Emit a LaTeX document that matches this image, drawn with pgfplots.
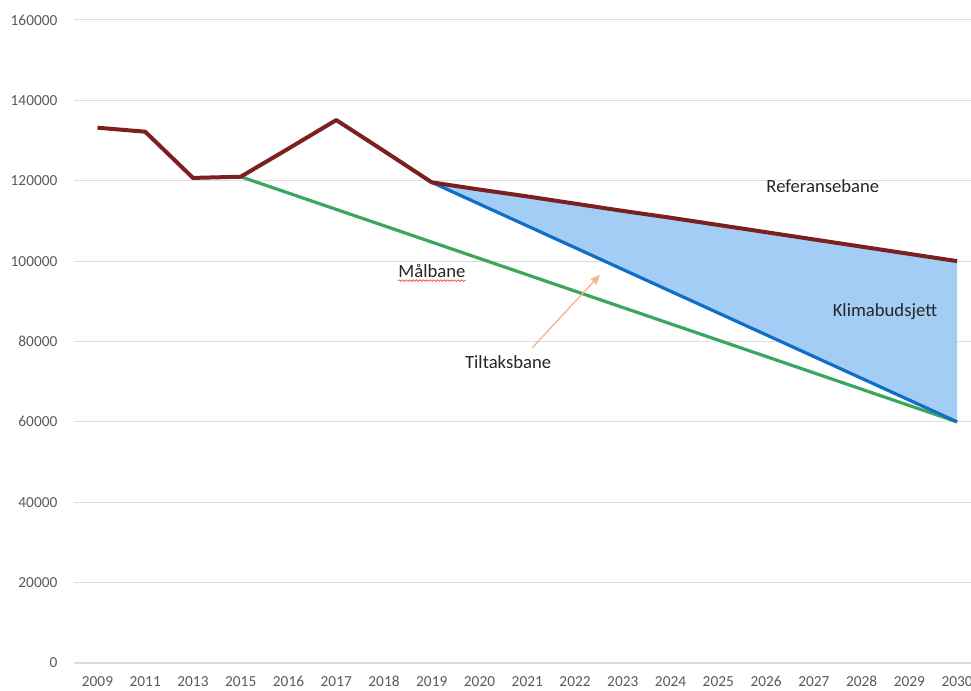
\documentclass[border=0pt]{standalone}
\usepackage{pgfplots}
\pgfplotsset{compat=1.18}
\usepackage{fontspec}
\setmainfont{Carlito}
\usetikzlibrary{decorations.pathmorphing, arrows.meta}
\definecolor{refred}{HTML}{7B1F1F}
\definecolor{tiltblue}{HTML}{0F6FC6}
\definecolor{malgreen}{HTML}{3DA65E}
\definecolor{fillblue}{HTML}{A3CDF4}
\definecolor{gridgray}{HTML}{DDDDDD}
\definecolor{tickgray}{HTML}{5A5A5A}
\definecolor{annot}{HTML}{262626}
\definecolor{arrowpeach}{HTML}{F5B58C}
\begin{document}
\begin{tikzpicture}
\begin{axis}[
  at={(55.2pt,21pt)}, anchor=south west,
  scale only axis, width=680.5pt, height=482.25pt,
  xmin=-0.5, xmax=18.5, ymin=0, ymax=160000,
  xtick={0,...,18},
  xticklabels={2009,2011,2013,2015,2016,2017,2018,2019,2020,2021,2022,2023,2024,2025,2026,2027,2028,2029,2030},
  ytick={0,20000,40000,60000,80000,100000,120000,140000,160000},
  scaled y ticks=false,
  /pgf/number format/assume math mode=true,
  /pgf/number format/1000 sep={},
  /pgf/number format/fixed,
  axis line style={draw=none},
  major tick length=0pt,
  tick style={draw=none},
  ymajorgrids,
  grid style={color=gridgray, line width=0.75pt},
  tick label style={font=\fontsize{11.5}{13}\selectfont, text=tickgray},
  yticklabel style={inner sep=0pt, anchor=east, xshift=-12pt},
  xticklabel style={inner sep=0pt, anchor=north, yshift=-9.75pt},
  clip=false,
]
\draw[gridgray, line width=1.5pt] (axis cs:-0.5,0) -- (axis cs:18.5,0);
% Klimabudsjett area between Referansebane and Tiltaksbane
\addplot[fill=fillblue, draw=none] coordinates {
  (7,119600) (8,117800) (9,116100) (10,114300) (11,112500) (12,110800)
  (13,109000) (14,107200) (15,105400) (16,103600) (17,101800) (18,100000)
  (18,60000) (7,119600)} -- cycle;
% Maalbane
\addplot[malgreen, line width=2.4pt] coordinates {(3,121000) (18,60000)};
% Tiltaksbane
\addplot[tiltblue, line width=2.4pt] coordinates {(7,119600) (18,60000)};
% Referansebane
\addplot[refred, line width=3pt, line join=round] coordinates {
  (0,133200) (1,132200) (2,120700) (3,121000) (4,128000) (5,135100)
  (6,127400) (7,119600) (8,117800) (9,116100) (10,114300) (11,112500)
  (12,110800) (13,109000) (14,107200) (15,105400) (16,103600) (17,101800)
  (18,100000)};
\node[text=annot, font=\fontsize{14}{16}\selectfont] at (axis cs:15.19,118690) {Referansebane};
\node[text=annot, font=\fontsize{14}{16}\selectfont] at (axis cs:16.49,87340) {Klimabudsjett};
\node[text=annot, font=\fontsize{14}{16}\selectfont, inner sep=0pt] (mal) at (axis cs:7.005,97540) {Målbane};
\draw[red!80, line width=0.5pt, decorate, decoration={snake, amplitude=0.6pt, segment length=2.6pt}]
  ([yshift=-2pt]mal.south west) -- ([yshift=-2pt]mal.south east);
\node[text=annot, font=\fontsize{14}{16}\selectfont] at (axis cs:8.60,74900) {Tiltaksbane};
\draw[arrowpeach, line width=1pt, -{Triangle[length=7pt, width=6pt]}] (axis cs:9.10,78380) -- (axis cs:10.52,96550);
\end{axis}
\pgfresetboundingbox
\useasboundingbox (0,0) rectangle (728.25pt,518.25pt);
\end{tikzpicture}
\end{document}
